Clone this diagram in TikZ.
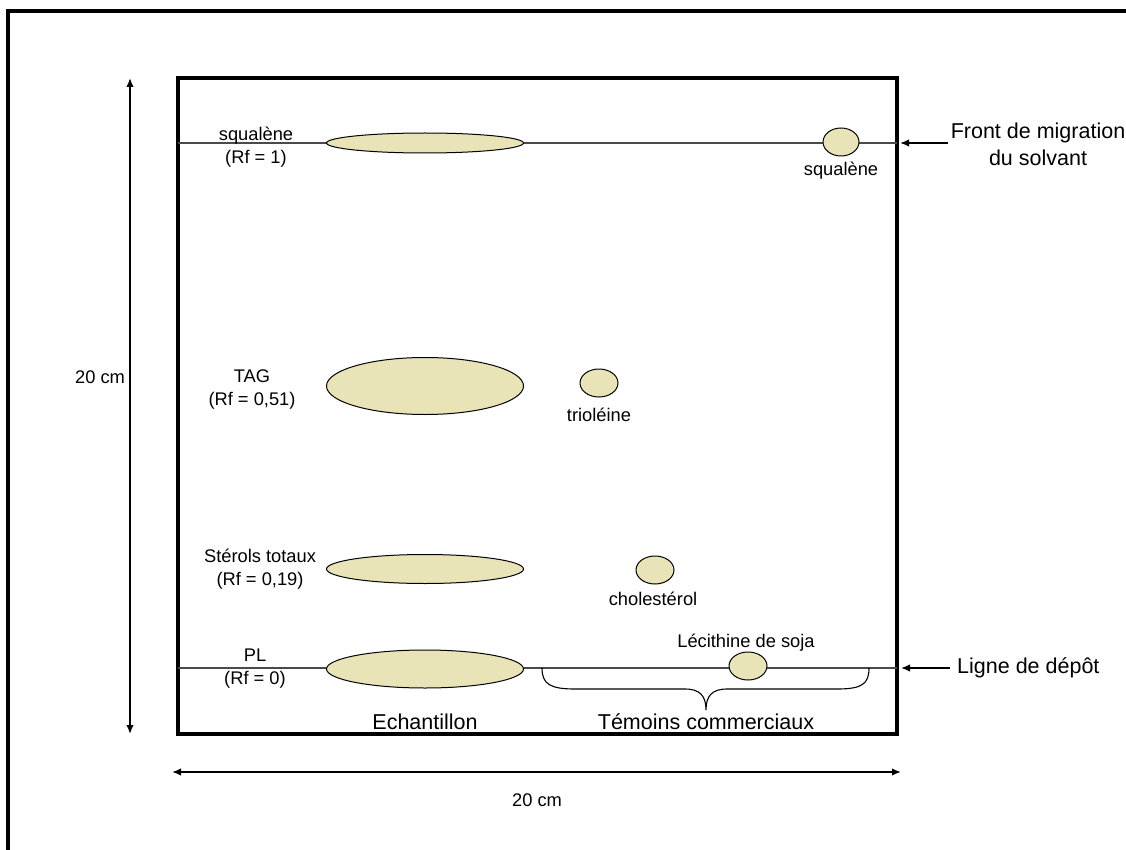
\documentclass[tikz,border=0pt]{standalone}
\usepackage{fontspec}
\setmainfont{Liberation Sans}
\usetikzlibrary{shapes.geometric,arrows.meta}
\definecolor{spotfill}{HTML}{E8E4B8}
\definecolor{linegray}{HTML}{4A4A4A}
\begin{document}
\begin{tikzpicture}[x=1pt,y=-1pt,
  spot/.style={ellipse,draw=black,line width=1pt,fill=spotfill,inner sep=0pt},
  smalltxt/.style={font=\fontsize{18.3}{23}\selectfont,align=center,inner sep=0pt},
  bigtxt/.style={font=\fontsize{21.5}{27}\selectfont,align=center,inner sep=0pt},
  tip/.style={Latex[length=9pt,width=7.5pt]},
  arr/.style={line width=1.6pt,-{Latex[length=9pt,width=7.5pt]}},
  darr/.style={line width=1.6pt,{Latex[length=9pt,width=7.5pt]}-{Latex[length=9pt,width=7.5pt]}},
  grayline/.style={draw=linegray,line width=2.8pt}]
\useasboundingbox (0,0) rectangle (1126,850);
% outer frame
\draw[line width=3.5pt] (8,860) -- (8,11) -- (1136,11);
% plate
\draw[line width=3.5pt] (178,78) rectangle (897,734);
% lines
\coordinate (fl) at (178,143); \coordinate (fr) at (897,143);
\coordinate (dl) at (178,668); \coordinate (dr) at (897,668);
\draw[grayline] (fl) -- (fr);
\draw[grayline] (dl) -- (dr);
% spots
\node[spot,minimum width=197,minimum height=20] (sq) at (425,143) {};
\node[spot,minimum width=36,minimum height=28] (sqs) at (841,142) {};
\node[spot,minimum width=197,minimum height=57] (tag) at (425,386) {};
\node[spot,minimum width=38,minimum height=28] (tri) at (599,383) {};
\node[spot,minimum width=197,minimum height=29] (ster) at (425,569) {};
\node[spot,minimum width=38,minimum height=28] (chol) at (655,570) {};
\node[spot,minimum width=197,minimum height=38] (pl) at (425,669) {};
\node[spot,minimum width=38,minimum height=28] (lec) at (748,666) {};
% labels
\node[smalltxt] (lsq) at (256,147) {squalène\\(Rf = 1)};
\node[smalltxt] (lsqs) at (841,171) {squalène};
\node[smalltxt] (ltag) at (252,390) {TAG\\(Rf = 0,51)};
\node[smalltxt] (ltri) at (599,415) {trioléine};
\node[smalltxt] (lster) at (260,569) {Stérols totaux\\(Rf = 0,19)};
\node[smalltxt] (lchol) at (653,599) {cholestérol};
\node[smalltxt] (lpl) at (255,669) {PL\\(Rf = 0)};
\node[smalltxt] (llec) at (746,643) {Lécithine de soja};
\node[bigtxt] (lech) at (425,722) {Echantillon};
\node[bigtxt] (ltem) at (706,722) {Témoins commerciaux};
% brace
\draw[line width=1.1pt] (542,668) .. controls (542,684) and (550,689) .. (575,689)
  -- (685,689) .. controls (700,689) and (706,696) .. (706,710)
  .. controls (706,696) and (712,689) .. (727,689)
  -- (837,689) .. controls (862,689) and (869,684) .. (869,668);
% right annotations
\node[bigtxt] (lfront) at (1038,144) {Front de migration\\du solvant};
\node[bigtxt,anchor=west] (ldep) at (957,668) {Ligne de dépôt};
\coordinate (fa) at (948,143); \coordinate (fb) at (900,143);
\coordinate (da) at (950,668); \coordinate (db) at (901,668);
\draw[arr] (fa) -- (fb);
\draw[arr] (da) -- (db);
% dimension arrows
\coordinate (v1) at (130,78); \coordinate (v2) at (130,734);
\coordinate (h1) at (172,772); \coordinate (h2) at (901,772);
\draw[darr] (v1) -- (v2);
\draw[darr] (h1) -- (h2);
\node[smalltxt] (lv) at (100,377) {20 cm};
\node[smalltxt] (lh) at (537,800) {20 cm};
\end{tikzpicture}
\end{document}
